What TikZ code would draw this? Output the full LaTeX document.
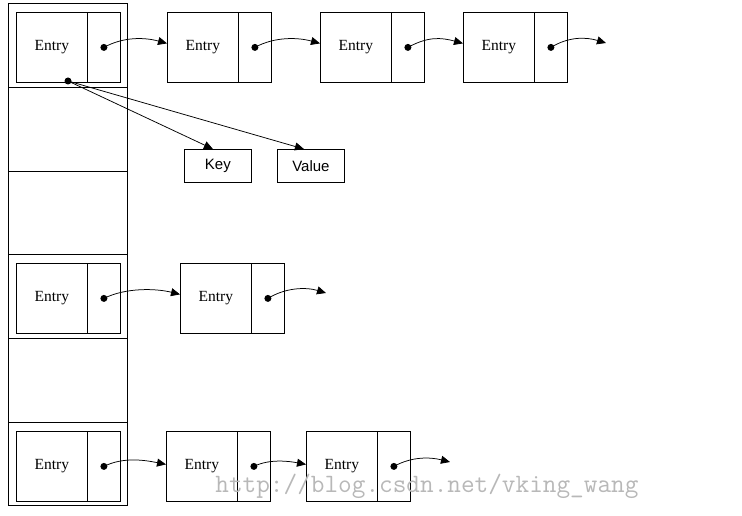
\documentclass[tikz,border=0pt]{standalone}
\usepackage{fontspec}
\setmainfont{Liberation Serif}
\newfontfamily\sansf{Liberation Sans}
\newfontfamily\monof{Latin Modern Mono}
\usetikzlibrary{arrows.meta}
\begin{document}
\begin{tikzpicture}[x=1pt,y=-1pt,
  line width=0.8pt,
  bucket/.style={draw, anchor=north west, minimum width=119pt, inner sep=0pt},
  ent/.style={draw, anchor=north west, minimum width=71pt, minimum height=70pt, inner sep=0pt, font=\fontsize{15.5}{15.5}\selectfont},
  ptr/.style={draw, anchor=north west, minimum width=33pt, minimum height=70pt, inner sep=0pt},
  kv/.style={draw, anchor=north west, minimum width=67pt, minimum height=33pt, inner sep=0pt, font=\sansf\fontsize{15}{15}\selectfont},
  link/.style={-{Triangle[length=9pt,width=8pt]}, line width=0.75pt},
  dotc/.style={circle, fill, inner sep=0pt, minimum size=7pt}
]
\useasboundingbox (0,0) rectangle (742,516);
% buckets
\node[bucket, minimum height=84pt] (b1) at (8,3) {};
\node[bucket, minimum height=84pt] (b2) at (8,87) {};
\node[bucket, minimum height=83pt] (b3) at (8,171) {};
\node[bucket, minimum height=84pt] (b4) at (8,254) {};
\node[bucket, minimum height=84pt] (b5) at (8,338) {};
\node[bucket, minimum height=83pt] (b6) at (8,422) {};
% row 1
\node[ent] (e11) at (16,12) {Entry};   \node[ptr] (p11) at (87,12) {};
\node[ent] (e12) at (167,12) {Entry};  \node[ptr] (p12) at (238,12) {};
\node[ent] (e13) at (320,12) {Entry};  \node[ptr] (p13) at (391,12) {};
\node[ent] (e14) at (463,12) {Entry};  \node[ptr] (p14) at (534,12) {};
% row 2
\node[ent] (e21) at (16,263) {Entry};  \node[ptr] (p21) at (87,263) {};
\node[ent] (e22) at (180,263) {Entry}; \node[ptr] (p22) at (251,263) {};
% row 3
\node[ent] (e31) at (16,431) {Entry};  \node[ptr] (p31) at (87,431) {};
\node[ent] (e32) at (166,431) {Entry}; \node[ptr] (p32) at (237,431) {};
\node[ent] (e33) at (306,431) {Entry}; \node[ptr] (p33) at (377,431) {};
% key / value
\node[kv] (key) at (184,149) {Key};
\node[kv] (val) at (277,149) {Value};
% dots
\foreach \p in {p11,p12,p13,p14,p21,p22,p31,p32,p33}
  \node[dotc] (d\p) at (\p.center) {};
\node[dotc] (kd) at (68,81) {};
% free ends
\coordinate (t14) at (606,43);
\coordinate (t22) at (326,293);
\coordinate (t33) at (450,462);
% links
\draw[link] (dp11.center) .. controls +(20,-11) and +(-22,-6) .. ([yshift=4pt]e12.west);
\draw[link] (dp12.center) .. controls +(20,-11) and +(-22,-6) .. ([yshift=4pt]e13.west);
\draw[link] (dp13.center) .. controls +(20,-11) and +(-22,-6) .. ([yshift=4pt]e14.west);
\draw[link] (dp14.center) .. controls +(18,-11) and +(-20,-6) .. (t14);
\draw[link] (dp21.center) .. controls +(22,-11) and +(-24,-6) .. ([yshift=4pt]e22.west);
\draw[link] (dp22.center) .. controls +(18,-11) and +(-20,-6) .. (t22);
\draw[link] (dp31.center) .. controls +(20,-10) and +(-20,-4) .. ([yshift=2pt]e32.west);
\draw[link] (dp32.center) .. controls +(16,-8) and +(-16,-3) .. ([yshift=2pt]e33.west);
\draw[link] (dp33.center) .. controls +(18,-10) and +(-20,-5) .. (t33);
\draw[link] (kd.center) -- ([xshift=-5pt]key.north);
\draw[link] (kd.center) -- ([xshift=-7pt]val.north);
% watermark
\node[anchor=base west, text=black!28, inner sep=0pt, font=\monof\fontsize{26.5}{26.5}\selectfont] (wm) at (215,492) {http://blog.csdn.net/vking\_wang};
\end{tikzpicture}
\end{document}
